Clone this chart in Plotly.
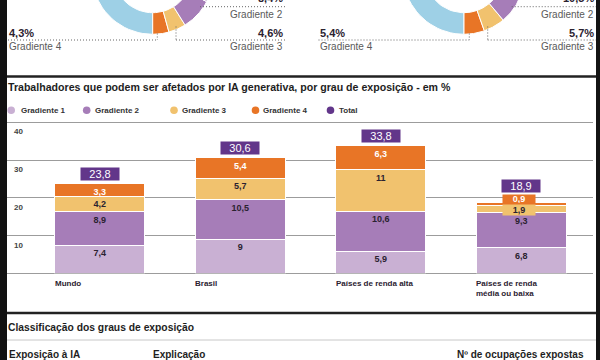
import numpy as np
import plotly.graph_objects as go

# ---------------- data ----------------
categories = ["Mundo", "Brasil", "Países de renda alta", "Países de renda<br>média ou baixa"]
gradiente_1 = [7.4, 9, 5.9, 6.8]
gradiente_2 = [8.9, 10.5, 10.6, 9.3]
gradiente_3 = [4.2, 5.7, 11, 1.9]
gradiente_4 = [3.3, 5.4, 6.3, 0.9]
totais = [23.8, 30.6, 33.8, 18.9]
y_tick_values = [10, 20, 30, 40]
legend_labels = ["Gradiente 1", "Gradiente 2", "Gradiente 3", "Gradiente 4", "Total"]

# donuts (cropped at the top of the picture): shares in %, order from the bottom
# going counter-clockwise: Gradiente 4, Gradiente 3, Gradiente 2, Gradiente 1
donut_left_values = [4.3, 4.6, 8.4, 7.0]    # Gradiente 1 hidden above the crop (estimate)
donut_right_values = [5.4, 5.7, 10.5, 9.0]  # Gradiente 1 hidden above the crop (estimate)
donut_pct_labels_left = ["4,3%", "4,6%", "8,4%"]
donut_pct_labels_right = ["5,4%", "5,7%", "10,5%"]

# ---------------- style ----------------
FONT = "Liberation Sans, Arial, sans-serif"
C1, C2, C3, C4 = "#c9b0d3", "#a67db8", "#f1c26e", "#e87526"
CT = "#62368a"
BLUE = "#9ed0e6"
TXT = "#2b2230"
GRID = "#9c9c9c"
W, H = 600, 360
PX_PER_UNIT = (273.3 - 122.5) / 40
Y_MAX = 40.3


def px(x):
    return x / W


def py(y):
    return 1 - y / H


def fmt(v):
    return f"{v:g}".replace(".", ",")


fig = go.Figure()

# ---------------- stacked bars ----------------
series = [
    ("Gradiente 1", gradiente_1, C1, TXT),
    ("Gradiente 2", gradiente_2, C2, TXT),
    ("Gradiente 3", gradiente_3, C3, TXT),
    ("Gradiente 4", gradiente_4, C4, "white"),
]
for name, vals, color, tcolor in series:
    fig.add_trace(go.Bar(
        x=categories, y=vals, name=name,
        marker=dict(color=color, line=dict(color="white", width=1)),
        text=[fmt(v) if v >= 2.5 else "" for v in vals],
        textposition="inside", insidetextanchor="end", textangle=0,
        textfont=dict(family=FONT, size=9, color=tcolor, weight="bold"),
        hoverinfo="skip", showlegend=False,
    ))

annotations = []
shapes = []

# white page area between the dark side strips of the cropped page
shapes.append(dict(type="rect", xref="paper", yref="paper", x0=px(7), x1=px(596), y0=-0.01,
                   y1=1.01, fillcolor="white", line=dict(width=0), layer="below"))

# total boxes (raised above the tab when the top segment is labelled outside)
for cat, tot, g4 in zip(categories, totais, gradiente_4):
    annotations.append(dict(
        x=cat, y=tot, xref="x", yref="y", yanchor="bottom", yshift=2.5 if g4 >= 2.5 else 9,
        text=fmt(tot), showarrow=False, bgcolor=CT, width=38, height=12, borderpad=0,
        font=dict(family=FONT, size=11, color="white"),
    ))

# small segments labelled in tabs
cum = np.zeros(len(categories))
small_cfg = {2: (C3, TXT, -4.5, 10), 3: (C4, "white", 3.0, 8)}
for si, (name, vals, color, tcolor) in enumerate(series):
    top = cum + np.array(vals)
    if si in small_cfg:
        bg, fc, ysh, hh = small_cfg[si]
        for ci, v in enumerate(vals):
            if v < 2.5:
                annotations.append(dict(
                    x=categories[ci], y=float(top[ci]), xref="x", yref="y", yanchor="middle",
                    yshift=ysh, xshift=-2, text=fmt(v), showarrow=False, bgcolor=bg, width=32,
                    height=hh, borderpad=0,
                    font=dict(family=FONT, size=9, color=fc, weight="bold"),
                ))
    cum = top

# category labels (left aligned under each bar)
for cat in categories:
    annotations.append(dict(
        x=cat, y=0, xref="x", yref="y", xanchor="left", yanchor="top", xshift=-47, yshift=-4,
        text=cat, align="left", showarrow=False,
        font=dict(family=FONT, size=8, color=TXT, weight="bold"),
    ))

# y tick labels sit just under their gridlines, at the left of the plot
for v in y_tick_values:
    annotations.append(dict(
        x=px(11.5), y=v, xref="paper", yref="y", xanchor="left", yanchor="top", yshift=-3,
        text=str(v), showarrow=False,
        font=dict(family=FONT, size=8, color="#444", weight="bold"),
    ))

# ---------------- donuts (cropped) ----------------
def ring(cx, cy, r_out, r_in, a0, a1):
    t = np.radians(np.linspace(a0, a1, 60))
    xo, yo = cx + r_out * np.sin(t), cy + r_out * np.cos(t)
    xi, yi = cx + r_in * np.sin(t[::-1]), cy + r_in * np.cos(t[::-1])
    return np.concatenate([xo, xi, xo[:1]]), np.concatenate([yo, yi, yo[:1]])


R_OUT, R_IN, CY = 61, 39.4, -26.7
for cx, vals in [(152.7, donut_left_values), (464.0, donut_right_values)]:
    rest = 100 - sum(vals)
    xs, ys = ring(cx, CY, R_OUT, R_IN, 0, -rest * 3.6)
    fig.add_trace(go.Scatter(x=xs, y=ys, xaxis="x2", yaxis="y2", fill="toself", fillcolor=BLUE,
                             mode="lines", line=dict(color="white", width=1), hoverinfo="skip",
                             showlegend=False))
    c = 0
    for v, col in zip(vals, [C4, C3, C2, C1]):
        xs, ys = ring(cx, CY, R_OUT, R_IN, c * 3.6, (c + v) * 3.6)
        fig.add_trace(go.Scatter(x=xs, y=ys, xaxis="x2", yaxis="y2", fill="toself", fillcolor=col,
                                 mode="lines", line=dict(color="white", width=1), hoverinfo="skip",
                                 showlegend=False))
        c += v


def ann(text, x, y, size, color, xanchor, bold=False):
    annotations.append(dict(
        x=px(x), y=py(y), xref="paper", yref="paper", xanchor=xanchor, yanchor="middle",
        text=text, showarrow=False,
        font=dict(family=FONT, size=size, color=color, weight="bold" if bold else "normal"),
    ))


def dotted(x0, y0, x1, y1):
    shapes.append(dict(type="line", xref="paper", yref="paper", x0=px(x0), y0=py(y0), x1=px(x1),
                       y1=py(y1), line=dict(color="#666", width=1, dash="1px,2px")))


GRAY = "#5a5a5a"
for off, labs, (lv_x, r_x0, g2_x0, right_end) in [
    (0, donut_pct_labels_left, (157.3, 176.0, 200.0, 285.0)),
    (311.3, donut_pct_labels_right, (469.3, 487.7, 511.7, 596.0)),
]:
    left_start = 7 if off == 0 else 317.5
    # Gradiente 4 (left)
    ann(labs[0], left_start, 32.5, 11, TXT, "left", bold=True)
    ann("Gradiente 4", left_start, 46.3, 10, GRAY, "left")
    dotted(left_start + 1, 40, lv_x, 40)
    dotted(lv_x, 33.5, lv_x, 40)
    # Gradiente 3 (right)
    ann(labs[1], right_end, 32.5, 11, TXT, "right", bold=True)
    ann("Gradiente 3", right_end - 0.5, 46.5, 10, GRAY, "right")
    dotted(r_x0, 40, right_end, 40)
    dotted(r_x0, 26.5, r_x0, 40)
    # Gradiente 2 (top right)
    ann(labs[2], right_end, -2.5, 11, TXT, "right", bold=True)
    ann("Gradiente 2", right_end - 0.5, 14.5, 10, GRAY, "right")
    dotted(g2_x0, 6.7, right_end, 6.7)

# ---------------- titles, legend, rules ----------------
ann("Trabalhadores que podem ser afetados por IA generativa, por grau de exposição - em %",
    6, 87, 10.6, "#1e1e1e", "left", bold=True)

legend_colors = [C1, C2, C3, C4, CT]
legend_cx = [11.2, 86.7, 174.0, 255.5, 330.5]
legend_tx = [19.0, 92.5, 180.0, 260.5, 337.0]
for lab, col, cx, tx in zip(legend_labels, legend_colors, legend_cx, legend_tx):
    shapes.append(dict(type="circle", xref="paper", yref="paper", x0=px(cx - 3.8), x1=px(cx + 3.8),
                       y0=py(110.2 + 3.8), y1=py(110.2 - 3.8), fillcolor=col, line=dict(width=0)))
    ann(lab, tx, 110, 8, "#333", "left", bold=True)

shapes.append(dict(type="line", xref="paper", yref="paper", x0=px(7), x1=px(596), y0=py(76.5),
                   y1=py(76.5), line=dict(color="#222", width=2.5)))
shapes.append(dict(type="line", xref="paper", yref="paper", x0=px(7), x1=px(596), y0=py(313),
                   y1=py(313), line=dict(color="#222", width=2.5)))
shapes.append(dict(type="line", xref="paper", yref="paper", x0=px(7), x1=px(596), y0=py(340),
                   y1=py(340), line=dict(color="#c8c8c8", width=1)))

ann("Classificação dos graus de exposição", 6, 327, 10.3, "#1e1e1e", "left", bold=True)
ann("Exposição à IA", 6.5, 354, 10, "#1e1e1e", "left", bold=True)
ann("Explicação", 151, 354, 10, "#1e1e1e", "left", bold=True)
ann("Nº de ocupações expostas", 586, 354, 10, "#1e1e1e", "right", bold=True)

# dark side strips of the cropped page (drawn over any overflowing text)
shapes.append(dict(type="rect", xref="paper", yref="paper", x0=-0.01, x1=px(7), y0=-0.01, y1=1.01,
                   fillcolor="#111111", line=dict(width=0), layer="above"))
shapes.append(dict(type="rect", xref="paper", yref="paper", x0=px(596), x1=1.01, y0=-0.01, y1=1.01,
                   fillcolor="#141414", line=dict(width=0), layer="above"))

fig.update_layout(
    width=W, height=H, margin=dict(l=0, r=0, t=0, b=0),
    paper_bgcolor="#111111", plot_bgcolor="rgba(0,0,0,0)",
    barmode="stack", bargap=0.36, showlegend=False,
    uniformtext=dict(mode="show", minsize=9),
    font=dict(family=FONT, color=TXT),
    xaxis=dict(domain=[px(7), px(593)], range=[-0.66, 3.51], visible=False, fixedrange=True),
    yaxis=dict(domain=[py(273.3), py(273.3 - Y_MAX * PX_PER_UNIT)], range=[0, Y_MAX],
               tickvals=y_tick_values, showticklabels=False, showgrid=True, gridcolor=GRID,
               gridwidth=1, zeroline=True, zerolinecolor=GRID, zerolinewidth=1, showline=False,
               ticks="", fixedrange=True),
    xaxis2=dict(domain=[0, 1], range=[0, 600], visible=False, anchor="y2", fixedrange=True),
    yaxis2=dict(domain=[py(90), 1], range=[90, 0], visible=False, anchor="x2", fixedrange=True),
    annotations=annotations, shapes=shapes,
)

# the page body has a default 8px margin: remove it so the 600x360 figure fills the window
fig.write_html("out.html", config={"displayModeBar": False},
               post_script="document.body.style.margin='0';")
